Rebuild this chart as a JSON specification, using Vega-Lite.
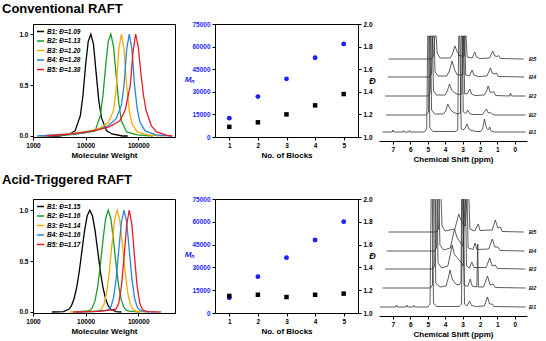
{
  "$schema": "https://vega.github.io/schema/vega-lite/v6.json",
  "background": "white",
  "padding": {"left": 2, "top": 2, "right": 0, "bottom": 0},
  "spacing": 9,
  "resolve": {"scale": {"color": "independent"}, "legend": {"color": "independent"}},
  "vconcat": [
    {
      "title": {"text": "Conventional RAFT", "dx": -31, "offset": 5},
      "spacing": 3,
      "resolve": {"scale": {"color": "independent"}, "legend": {"color": "independent"}},
      "hconcat": [
        {
          "spacing": 7,
          "resolve": {"scale": {"color": "independent"}, "legend": {"color": "independent"}},
          "hconcat": [
            {
              "width": 142,
              "height": 113,
              "data": {"values": [
                {"block": "B1", "mw": 1995, "w": 0}, {"block": "B1", "mw": 3162, "w": 0}, {"block": "B1", "mw": 5012, "w": 0.02}, {"block": "B1", "mw": 6310, "w": 0.05}, {"block": "B1", "mw": 7943, "w": 0.2}, {"block": "B1", "mw": 8913, "w": 0.4}, {"block": "B1", "mw": 10000, "w": 0.7}, {"block": "B1", "mw": 11220, "w": 0.93}, {"block": "B1", "mw": 12590, "w": 1.0}, {"block": "B1", "mw": 14130, "w": 0.9}, {"block": "B1", "mw": 15850, "w": 0.62}, {"block": "B1", "mw": 17780, "w": 0.35}, {"block": "B1", "mw": 19950, "w": 0.18}, {"block": "B1", "mw": 25120, "w": 0.05}, {"block": "B1", "mw": 31620, "w": 0.02}, {"block": "B1", "mw": 50120, "w": 0}, {"block": "B1", "mw": 63100, "w": 0},
                {"block": "B2", "mw": 1514, "w": 0}, {"block": "B2", "mw": 4786, "w": 0.01}, {"block": "B2", "mw": 9550, "w": 0.03}, {"block": "B2", "mw": 15140, "w": 0.05}, {"block": "B2", "mw": 19050, "w": 0.2}, {"block": "B2", "mw": 21380, "w": 0.4}, {"block": "B2", "mw": 23990, "w": 0.68}, {"block": "B2", "mw": 26920, "w": 0.93}, {"block": "B2", "mw": 30200, "w": 1.0}, {"block": "B2", "mw": 33880, "w": 0.88}, {"block": "B2", "mw": 38020, "w": 0.6}, {"block": "B2", "mw": 42660, "w": 0.33}, {"block": "B2", "mw": 47860, "w": 0.15}, {"block": "B2", "mw": 60260, "w": 0.04}, {"block": "B2", "mw": 95500, "w": 0.01}, {"block": "B2", "mw": 190500, "w": 0},
                {"block": "B3", "mw": 1349, "w": 0}, {"block": "B3", "mw": 4786, "w": 0.02}, {"block": "B3", "mw": 12020, "w": 0.05}, {"block": "B3", "mw": 19050, "w": 0.08}, {"block": "B3", "mw": 26920, "w": 0.13}, {"block": "B3", "mw": 33880, "w": 0.25}, {"block": "B3", "mw": 38020, "w": 0.45}, {"block": "B3", "mw": 42660, "w": 0.85}, {"block": "B3", "mw": 47860, "w": 1.0}, {"block": "B3", "mw": 53700, "w": 0.85}, {"block": "B3", "mw": 60260, "w": 0.5}, {"block": "B3", "mw": 67610, "w": 0.25}, {"block": "B3", "mw": 75860, "w": 0.12}, {"block": "B3", "mw": 95500, "w": 0.04}, {"block": "B3", "mw": 151400, "w": 0.01}, {"block": "B3", "mw": 302000, "w": 0},
                {"block": "B4", "mw": 1202, "w": 0}, {"block": "B4", "mw": 6761, "w": 0.02}, {"block": "B4", "mw": 16980, "w": 0.06}, {"block": "B4", "mw": 26920, "w": 0.1}, {"block": "B4", "mw": 38020, "w": 0.17}, {"block": "B4", "mw": 47860, "w": 0.3}, {"block": "B4", "mw": 53700, "w": 0.5}, {"block": "B4", "mw": 60260, "w": 0.85}, {"block": "B4", "mw": 67610, "w": 1.0}, {"block": "B4", "mw": 75860, "w": 0.85}, {"block": "B4", "mw": 85110, "w": 0.5}, {"block": "B4", "mw": 95500, "w": 0.27}, {"block": "B4", "mw": 107200, "w": 0.14}, {"block": "B4", "mw": 134900, "w": 0.05}, {"block": "B4", "mw": 213800, "w": 0.01}, {"block": "B4", "mw": 426600, "w": 0},
                {"block": "B5", "mw": 1778, "w": 0}, {"block": "B5", "mw": 5623, "w": 0.02}, {"block": "B5", "mw": 14130, "w": 0.05}, {"block": "B5", "mw": 28180, "w": 0.09}, {"block": "B5", "mw": 44670, "w": 0.15}, {"block": "B5", "mw": 56230, "w": 0.25}, {"block": "B5", "mw": 70790, "w": 0.5}, {"block": "B5", "mw": 79430, "w": 0.82}, {"block": "B5", "mw": 89130, "w": 1.0}, {"block": "B5", "mw": 100000, "w": 0.88}, {"block": "B5", "mw": 112200, "w": 0.62}, {"block": "B5", "mw": 125900, "w": 0.4}, {"block": "B5", "mw": 141300, "w": 0.25}, {"block": "B5", "mw": 177800, "w": 0.1}, {"block": "B5", "mw": 223900, "w": 0.04}, {"block": "B5", "mw": 354800, "w": 0.005}, {"block": "B5", "mw": 446700, "w": 0}
              ]},
              "mark": {"type": "line", "strokeWidth": 1.3, "clip": true},
              "encoding": {
                "x": {"field": "mw", "type": "quantitative", "scale": {"type": "log", "domain": [1000, 500000], "nice": false}, "axis": {"title": "Molecular Weight", "values": [1000, 10000, 100000], "format": "d", "labelOverlap": false}},
                "y": {"field": "w", "type": "quantitative", "scale": {"domain": [-0.01, 1.1], "nice": false, "zero": false}, "axis": {"title": null, "values": [0, 0.5, 1], "format": ".1f", "labelOverlap": false}},
                "color": {"field": "block", "type": "nominal", "scale": {"domain": ["B1", "B2", "B3", "B4", "B5"], "range": ["#000000", "#1e9a2a", "#f2ae00", "#2b84d8", "#e41e26"]},
                  "legend": {"labelExpr": "datum.label == 'B1' ? 'B1: Đ=1.09' : datum.label == 'B2' ? 'B2: Đ=1.13' : datum.label == 'B3' ? 'B3: Đ=1.20' : datum.label == 'B4' ? 'B4: Đ=1.28' : 'B5: Đ=1.38'"}}
              }
            },
            {
              "width": 143,
              "height": 113,
              "data": {"values": [
                {"blocks": 1, "mn": 12500, "dispersity": 1.09},
                {"blocks": 2, "mn": 26800, "dispersity": 1.13},
                {"blocks": 3, "mn": 38600, "dispersity": 1.20},
                {"blocks": 4, "mn": 52600, "dispersity": 1.28},
                {"blocks": 5, "mn": 61800, "dispersity": 1.38}
              ]},
              "layer": [
                {
                  "mark": {"type": "point", "shape": "circle", "filled": true, "size": 24, "color": "#1f1fff", "opacity": 1},
                  "encoding": {
                    "x": {"field": "blocks", "type": "quantitative", "scale": {"domain": [0.5, 5.5], "nice": false}, "axis": {"title": "No. of Blocks", "values": [1, 2, 3, 4, 5], "labelOverlap": false}},
                    "y": {"field": "mn", "type": "quantitative", "scale": {"domain": [0, 75000], "nice": false}, "axis": {"title": "Mₙ", "values": [0, 15000, 30000, 45000, 60000, 75000], "format": "d", "labelOverlap": false, "labelColor": "#1f1fff", "titleColor": "#1f1fff", "titleFontStyle": "italic", "titleAngle": 0, "titleX": -26, "titleY": 55, "titleAlign": "center", "titleBaseline": "middle"}}
                  }
                },
                {
                  "mark": {"type": "square", "filled": true, "size": 20, "color": "#000000", "opacity": 1},
                  "encoding": {
                    "x": {"field": "blocks", "type": "quantitative", "scale": {"domain": [0.5, 5.5], "nice": false}, "axis": {"title": "No. of Blocks", "values": [1, 2, 3, 4, 5], "labelOverlap": false}},
                    "y": {"field": "dispersity", "type": "quantitative", "scale": {"domain": [1, 2], "nice": false, "zero": false}, "axis": {"orient": "right", "title": "Đ", "values": [1, 1.2, 1.4, 1.6, 1.8, 2], "format": ".1f", "labelOverlap": false, "titleFontStyle": "italic", "titleFontSize": 9, "titleAngle": 0, "titleX": 14, "titleY": 56, "titleAlign": "center", "titleBaseline": "middle"}}
                  }
                }
              ],
              "resolve": {"scale": {"y": "independent"}}
            }
          ]
        },
        {
          "width": 148,
          "height": 117,
          "view": {"stroke": null},
          "layer": [
            {
              "data": {"values": [
                {"block": "B1", "ppm": 7.6, "signal": 9}, {"block": "B1", "ppm": 7.05, "signal": 9}, {"block": "B1", "ppm": 7.0, "signal": 11}, {"block": "B1", "ppm": 6.95, "signal": 9}, {"block": "B1", "ppm": 6.45, "signal": 9}, {"block": "B1", "ppm": 6.4, "signal": 10.5}, {"block": "B1", "ppm": 6.35, "signal": 9}, {"block": "B1", "ppm": 6.1, "signal": 9}, {"block": "B1", "ppm": 6.05, "signal": 10.5}, {"block": "B1", "ppm": 6.0, "signal": 9}, {"block": "B1", "ppm": 5.2, "signal": 9}, {"block": "B1", "ppm": 5.06, "signal": 12}, {"block": "B1", "ppm": 5.0, "signal": 105}, {"block": "B1", "ppm": 4.94, "signal": 105}, {"block": "B1", "ppm": 4.88, "signal": 13}, {"block": "B1", "ppm": 4.7, "signal": 9.5}, {"block": "B1", "ppm": 3.4, "signal": 9.5}, {"block": "B1", "ppm": 3.28, "signal": 11}, {"block": "B1", "ppm": 3.22, "signal": 105}, {"block": "B1", "ppm": 3.16, "signal": 105}, {"block": "B1", "ppm": 3.08, "signal": 12}, {"block": "B1", "ppm": 2.95, "signal": 11}, {"block": "B1", "ppm": 2.85, "signal": 13}, {"block": "B1", "ppm": 2.74, "signal": 17}, {"block": "B1", "ppm": 2.64, "signal": 12}, {"block": "B1", "ppm": 2.45, "signal": 10}, {"block": "B1", "ppm": 2.36, "signal": 11}, {"block": "B1", "ppm": 2.3, "signal": 9.5}, {"block": "B1", "ppm": 1.95, "signal": 9.5}, {"block": "B1", "ppm": 1.85, "signal": 12}, {"block": "B1", "ppm": 1.74, "signal": 22}, {"block": "B1", "ppm": 1.63, "signal": 13}, {"block": "B1", "ppm": 1.52, "signal": 11}, {"block": "B1", "ppm": 1.44, "signal": 14}, {"block": "B1", "ppm": 1.36, "signal": 10}, {"block": "B1", "ppm": 1.2, "signal": 9}, {"block": "B1", "ppm": -0.62, "signal": 9},
                {"block": "B2", "ppm": 7.4, "signal": 26}, {"block": "B2", "ppm": 5.1, "signal": 26}, {"block": "B2", "ppm": 4.96, "signal": 29}, {"block": "B2", "ppm": 4.9, "signal": 105}, {"block": "B2", "ppm": 4.84, "signal": 105}, {"block": "B2", "ppm": 4.78, "signal": 31}, {"block": "B2", "ppm": 4.6, "signal": 27}, {"block": "B2", "ppm": 4.1, "signal": 27}, {"block": "B2", "ppm": 3.97, "signal": 30}, {"block": "B2", "ppm": 3.85, "signal": 37}, {"block": "B2", "ppm": 3.72, "signal": 32}, {"block": "B2", "ppm": 3.55, "signal": 29}, {"block": "B2", "ppm": 3.3, "signal": 27}, {"block": "B2", "ppm": 3.12, "signal": 28}, {"block": "B2", "ppm": 3.08, "signal": 105}, {"block": "B2", "ppm": 3.02, "signal": 105}, {"block": "B2", "ppm": 2.96, "signal": 29}, {"block": "B2", "ppm": 2.82, "signal": 27.5}, {"block": "B2", "ppm": 2.7, "signal": 31}, {"block": "B2", "ppm": 2.6, "signal": 27.5}, {"block": "B2", "ppm": 2.45, "signal": 26.5}, {"block": "B2", "ppm": 1.85, "signal": 26.5}, {"block": "B2", "ppm": 1.75, "signal": 29}, {"block": "B2", "ppm": 1.63, "signal": 32}, {"block": "B2", "ppm": 1.52, "signal": 28}, {"block": "B2", "ppm": 1.4, "signal": 28.5}, {"block": "B2", "ppm": 1.3, "signal": 27}, {"block": "B2", "ppm": 1.15, "signal": 26}, {"block": "B2", "ppm": -0.62, "signal": 26},
                {"block": "B3", "ppm": 7.45, "signal": 45}, {"block": "B3", "ppm": 5.0, "signal": 45}, {"block": "B3", "ppm": 4.86, "signal": 48}, {"block": "B3", "ppm": 4.8, "signal": 105}, {"block": "B3", "ppm": 4.73, "signal": 105}, {"block": "B3", "ppm": 4.67, "signal": 50}, {"block": "B3", "ppm": 4.5, "signal": 46}, {"block": "B3", "ppm": 4.0, "signal": 46}, {"block": "B3", "ppm": 3.88, "signal": 50}, {"block": "B3", "ppm": 3.75, "signal": 57}, {"block": "B3", "ppm": 3.62, "signal": 51}, {"block": "B3", "ppm": 3.45, "signal": 48}, {"block": "B3", "ppm": 3.25, "signal": 46.5}, {"block": "B3", "ppm": 3.04, "signal": 47}, {"block": "B3", "ppm": 3.0, "signal": 105}, {"block": "B3", "ppm": 2.94, "signal": 105}, {"block": "B3", "ppm": 2.88, "signal": 47}, {"block": "B3", "ppm": 2.72, "signal": 47.5}, {"block": "B3", "ppm": 2.58, "signal": 52}, {"block": "B3", "ppm": 2.48, "signal": 47}, {"block": "B3", "ppm": 2.3, "signal": 45.5}, {"block": "B3", "ppm": 1.75, "signal": 46}, {"block": "B3", "ppm": 1.62, "signal": 50}, {"block": "B3", "ppm": 1.53, "signal": 55}, {"block": "B3", "ppm": 1.42, "signal": 49}, {"block": "B3", "ppm": 1.3, "signal": 48.5}, {"block": "B3", "ppm": 1.2, "signal": 49.5}, {"block": "B3", "ppm": 1.1, "signal": 45.5}, {"block": "B3", "ppm": 0.3, "signal": 45}, {"block": "B3", "ppm": 0.25, "signal": 48}, {"block": "B3", "ppm": 0.2, "signal": 45}, {"block": "B3", "ppm": -0.62, "signal": 45},
                {"block": "B4", "ppm": 7.3, "signal": 64}, {"block": "B4", "ppm": 4.92, "signal": 64}, {"block": "B4", "ppm": 4.78, "signal": 67}, {"block": "B4", "ppm": 4.72, "signal": 105}, {"block": "B4", "ppm": 4.64, "signal": 105}, {"block": "B4", "ppm": 4.58, "signal": 69}, {"block": "B4", "ppm": 4.4, "signal": 65}, {"block": "B4", "ppm": 3.9, "signal": 65}, {"block": "B4", "ppm": 3.76, "signal": 70}, {"block": "B4", "ppm": 3.6, "signal": 80}, {"block": "B4", "ppm": 3.46, "signal": 71}, {"block": "B4", "ppm": 3.3, "signal": 66}, {"block": "B4", "ppm": 2.98, "signal": 66}, {"block": "B4", "ppm": 2.94, "signal": 105}, {"block": "B4", "ppm": 2.88, "signal": 105}, {"block": "B4", "ppm": 2.82, "signal": 66}, {"block": "B4", "ppm": 2.6, "signal": 65}, {"block": "B4", "ppm": 2.45, "signal": 71}, {"block": "B4", "ppm": 2.35, "signal": 66}, {"block": "B4", "ppm": 2.1, "signal": 64.5}, {"block": "B4", "ppm": 1.6, "signal": 65}, {"block": "B4", "ppm": 1.5, "signal": 69}, {"block": "B4", "ppm": 1.4, "signal": 73}, {"block": "B4", "ppm": 1.3, "signal": 68}, {"block": "B4", "ppm": 1.15, "signal": 67}, {"block": "B4", "ppm": 1.05, "signal": 68}, {"block": "B4", "ppm": 0.95, "signal": 64.5}, {"block": "B4", "ppm": -0.55, "signal": 64},
                {"block": "B5", "ppm": 7.25, "signal": 82}, {"block": "B5", "ppm": 4.8, "signal": 82}, {"block": "B5", "ppm": 4.66, "signal": 85}, {"block": "B5", "ppm": 4.6, "signal": 105}, {"block": "B5", "ppm": 4.52, "signal": 105}, {"block": "B5", "ppm": 4.46, "signal": 88}, {"block": "B5", "ppm": 4.3, "signal": 83}, {"block": "B5", "ppm": 3.7, "signal": 83}, {"block": "B5", "ppm": 3.56, "signal": 88}, {"block": "B5", "ppm": 3.44, "signal": 95}, {"block": "B5", "ppm": 3.3, "signal": 89}, {"block": "B5", "ppm": 3.15, "signal": 85}, {"block": "B5", "ppm": 2.9, "signal": 85}, {"block": "B5", "ppm": 2.86, "signal": 105}, {"block": "B5", "ppm": 2.8, "signal": 105}, {"block": "B5", "ppm": 2.74, "signal": 84}, {"block": "B5", "ppm": 2.45, "signal": 83}, {"block": "B5", "ppm": 2.3, "signal": 89}, {"block": "B5", "ppm": 2.2, "signal": 84}, {"block": "B5", "ppm": 2.0, "signal": 82.5}, {"block": "B5", "ppm": 1.45, "signal": 83}, {"block": "B5", "ppm": 1.35, "signal": 87}, {"block": "B5", "ppm": 1.26, "signal": 90}, {"block": "B5", "ppm": 1.15, "signal": 85}, {"block": "B5", "ppm": 1.0, "signal": 84.5}, {"block": "B5", "ppm": 0.92, "signal": 85.5}, {"block": "B5", "ppm": 0.82, "signal": 82.5}, {"block": "B5", "ppm": -0.5, "signal": 82}
              ]},
              "mark": {"type": "line", "color": "#333333", "strokeWidth": 0.8, "clip": true},
              "encoding": {
                "x": {"field": "ppm", "type": "quantitative", "scale": {"domain": [7.8, -0.7], "nice": false, "zero": false}, "axis": {"title": "Chemical Shift (ppm)", "values": [7, 6, 5, 4, 3, 2, 1, 0], "labelOverlap": false}},
                "y": {"field": "signal", "type": "quantitative", "scale": {"domain": [0, 117], "nice": false}, "axis": null},
                "detail": {"field": "block"}
              }
            },
            {
              "data": {"values": [
                {"block": "B1", "ppm": -0.8, "signal": 9}, {"block": "B2", "ppm": -0.8, "signal": 26}, {"block": "B3", "ppm": -0.8, "signal": 45}, {"block": "B4", "ppm": -0.8, "signal": 64}, {"block": "B5", "ppm": -0.8, "signal": 82}
              ]},
              "mark": {"type": "text", "align": "left", "baseline": "middle", "fontSize": 6, "fontWeight": "bold", "fontStyle": "italic", "color": "#222222"},
              "encoding": {
                "x": {"field": "ppm", "type": "quantitative", "scale": {"domain": [7.8, -0.7], "nice": false, "zero": false}, "axis": {"title": "Chemical Shift (ppm)", "values": [7, 6, 5, 4, 3, 2, 1, 0], "labelOverlap": false}},
                "y": {"field": "signal", "type": "quantitative", "scale": {"domain": [0, 117], "nice": false}, "axis": null},
                "text": {"field": "block"}
              }
            }
          ]
        }
      ]
    },
    {
      "title": {"text": "Acid-Triggered RAFT", "dx": -31, "offset": 9},
      "spacing": 3,
      "resolve": {"scale": {"color": "independent"}, "legend": {"color": "independent"}},
      "hconcat": [
        {
          "spacing": 7,
          "resolve": {"scale": {"color": "independent"}, "legend": {"color": "independent"}},
          "hconcat": [
            {
              "width": 142,
              "height": 114,
              "data": {"values": [
                {"block": "B1", "mw": 2290, "w": 0}, {"block": "B1", "mw": 3020, "w": 0.001}, {"block": "B1", "mw": 3802, "w": 0.004}, {"block": "B1", "mw": 4786, "w": 0.026}, {"block": "B1", "mw": 5370, "w": 0.06}, {"block": "B1", "mw": 6026, "w": 0.13}, {"block": "B1", "mw": 6761, "w": 0.24}, {"block": "B1", "mw": 7586, "w": 0.4}, {"block": "B1", "mw": 8511, "w": 0.6}, {"block": "B1", "mw": 9550, "w": 0.8}, {"block": "B1", "mw": 10720, "w": 0.945}, {"block": "B1", "mw": 12020, "w": 1.0}, {"block": "B1", "mw": 13490, "w": 0.945}, {"block": "B1", "mw": 15140, "w": 0.8}, {"block": "B1", "mw": 16980, "w": 0.6}, {"block": "B1", "mw": 19050, "w": 0.4}, {"block": "B1", "mw": 21380, "w": 0.24}, {"block": "B1", "mw": 23990, "w": 0.13}, {"block": "B1", "mw": 26920, "w": 0.06}, {"block": "B1", "mw": 30200, "w": 0.026}, {"block": "B1", "mw": 38020, "w": 0.003}, {"block": "B1", "mw": 47860, "w": 0},
                {"block": "B2", "mw": 6761, "w": 0}, {"block": "B2", "mw": 8511, "w": 0.005}, {"block": "B2", "mw": 10720, "w": 0.01}, {"block": "B2", "mw": 12020, "w": 0.016}, {"block": "B2", "mw": 13490, "w": 0.044}, {"block": "B2", "mw": 15140, "w": 0.114}, {"block": "B2", "mw": 16980, "w": 0.249}, {"block": "B2", "mw": 19050, "w": 0.458}, {"block": "B2", "mw": 21380, "w": 0.707}, {"block": "B2", "mw": 23990, "w": 0.917}, {"block": "B2", "mw": 26920, "w": 1.0}, {"block": "B2", "mw": 30200, "w": 0.917}, {"block": "B2", "mw": 33880, "w": 0.707}, {"block": "B2", "mw": 38020, "w": 0.458}, {"block": "B2", "mw": 42660, "w": 0.249}, {"block": "B2", "mw": 47860, "w": 0.114}, {"block": "B2", "mw": 53700, "w": 0.044}, {"block": "B2", "mw": 60260, "w": 0.016}, {"block": "B2", "mw": 67610, "w": 0.008}, {"block": "B2", "mw": 85110, "w": 0.003}, {"block": "B2", "mw": 107200, "w": 0},
                {"block": "B3", "mw": 5012, "w": 0}, {"block": "B3", "mw": 10000, "w": 0.003}, {"block": "B3", "mw": 12590, "w": 0.006}, {"block": "B3", "mw": 15850, "w": 0.01}, {"block": "B3", "mw": 17780, "w": 0.013}, {"block": "B3", "mw": 19950, "w": 0.027}, {"block": "B3", "mw": 22390, "w": 0.076}, {"block": "B3", "mw": 25120, "w": 0.191}, {"block": "B3", "mw": 28180, "w": 0.395}, {"block": "B3", "mw": 31620, "w": 0.662}, {"block": "B3", "mw": 35480, "w": 0.902}, {"block": "B3", "mw": 39810, "w": 1.0}, {"block": "B3", "mw": 44670, "w": 0.902}, {"block": "B3", "mw": 50120, "w": 0.662}, {"block": "B3", "mw": 56230, "w": 0.395}, {"block": "B3", "mw": 63100, "w": 0.191}, {"block": "B3", "mw": 70790, "w": 0.076}, {"block": "B3", "mw": 79430, "w": 0.027}, {"block": "B3", "mw": 89130, "w": 0.01}, {"block": "B3", "mw": 100000, "w": 0.005}, {"block": "B3", "mw": 125900, "w": 0.002}, {"block": "B3", "mw": 158500, "w": 0},
                {"block": "B4", "mw": 6761, "w": 0}, {"block": "B4", "mw": 13490, "w": 0.004}, {"block": "B4", "mw": 16980, "w": 0.008}, {"block": "B4", "mw": 21380, "w": 0.012}, {"block": "B4", "mw": 23990, "w": 0.016}, {"block": "B4", "mw": 26920, "w": 0.022}, {"block": "B4", "mw": 30200, "w": 0.05}, {"block": "B4", "mw": 33880, "w": 0.135}, {"block": "B4", "mw": 38020, "w": 0.325}, {"block": "B4", "mw": 42660, "w": 0.607}, {"block": "B4", "mw": 47860, "w": 0.882}, {"block": "B4", "mw": 53700, "w": 1.0}, {"block": "B4", "mw": 60260, "w": 0.882}, {"block": "B4", "mw": 67610, "w": 0.607}, {"block": "B4", "mw": 75860, "w": 0.325}, {"block": "B4", "mw": 85110, "w": 0.135}, {"block": "B4", "mw": 95500, "w": 0.05}, {"block": "B4", "mw": 107200, "w": 0.018}, {"block": "B4", "mw": 120200, "w": 0.008}, {"block": "B4", "mw": 134900, "w": 0.004}, {"block": "B4", "mw": 169800, "w": 0.001}, {"block": "B4", "mw": 213800, "w": 0},
                {"block": "B5", "mw": 5754, "w": 0}, {"block": "B5", "mw": 16980, "w": 0.005}, {"block": "B5", "mw": 21380, "w": 0.01}, {"block": "B5", "mw": 26920, "w": 0.015}, {"block": "B5", "mw": 30200, "w": 0.018}, {"block": "B5", "mw": 33880, "w": 0.022}, {"block": "B5", "mw": 38020, "w": 0.03}, {"block": "B5", "mw": 42660, "w": 0.085}, {"block": "B5", "mw": 47860, "w": 0.249}, {"block": "B5", "mw": 53700, "w": 0.539}, {"block": "B5", "mw": 60260, "w": 0.857}, {"block": "B5", "mw": 67610, "w": 1.0}, {"block": "B5", "mw": 75860, "w": 0.857}, {"block": "B5", "mw": 85110, "w": 0.539}, {"block": "B5", "mw": 95500, "w": 0.249}, {"block": "B5", "mw": 107200, "w": 0.085}, {"block": "B5", "mw": 120200, "w": 0.025}, {"block": "B5", "mw": 134900, "w": 0.01}, {"block": "B5", "mw": 151400, "w": 0.005}, {"block": "B5", "mw": 169800, "w": 0.003}, {"block": "B5", "mw": 213800, "w": 0.001}, {"block": "B5", "mw": 269200, "w": 0}
              ]},
              "mark": {"type": "line", "strokeWidth": 1.3, "clip": true},
              "encoding": {
                "x": {"field": "mw", "type": "quantitative", "scale": {"type": "log", "domain": [1000, 500000], "nice": false}, "axis": {"title": "Molecular Weight", "values": [1000, 10000, 100000], "format": "d", "labelOverlap": false}},
                "y": {"field": "w", "type": "quantitative", "scale": {"domain": [-0.01, 1.11], "nice": false, "zero": false}, "axis": {"title": null, "values": [0, 0.5, 1], "format": ".1f", "labelOverlap": false}},
                "color": {"field": "block", "type": "nominal", "scale": {"domain": ["B1", "B2", "B3", "B4", "B5"], "range": ["#000000", "#1e9a2a", "#f2ae00", "#2b84d8", "#e41e26"]},
                  "legend": {"labelExpr": "datum.label == 'B1' ? 'B1: Đ=1.15' : datum.label == 'B2' ? 'B2: Đ=1.16' : datum.label == 'B3' ? 'B3: Đ=1.14' : datum.label == 'B4' ? 'B4: Đ=1.16' : 'B5: Đ=1.17'"}}
              }
            },
            {
              "width": 143,
              "height": 114,
              "data": {"values": [
                {"blocks": 1, "mn": 10000, "dispersity": 1.15},
                {"blocks": 2, "mn": 23900, "dispersity": 1.16},
                {"blocks": 3, "mn": 36400, "dispersity": 1.14},
                {"blocks": 4, "mn": 48000, "dispersity": 1.16},
                {"blocks": 5, "mn": 60100, "dispersity": 1.17}
              ]},
              "layer": [
                {
                  "mark": {"type": "point", "shape": "circle", "filled": true, "size": 24, "color": "#1f1fff", "opacity": 1},
                  "encoding": {
                    "x": {"field": "blocks", "type": "quantitative", "scale": {"domain": [0.5, 5.5], "nice": false}, "axis": {"title": "No. of Blocks", "values": [1, 2, 3, 4, 5], "labelOverlap": false}},
                    "y": {"field": "mn", "type": "quantitative", "scale": {"domain": [0, 75000], "nice": false}, "axis": {"title": "Mₙ", "values": [0, 15000, 30000, 45000, 60000, 75000], "format": "d", "labelOverlap": false, "labelColor": "#1f1fff", "titleColor": "#1f1fff", "titleFontStyle": "italic", "titleAngle": 0, "titleX": -26, "titleY": 55, "titleAlign": "center", "titleBaseline": "middle"}}
                  }
                },
                {
                  "mark": {"type": "square", "filled": true, "size": 20, "color": "#000000", "opacity": 1},
                  "encoding": {
                    "x": {"field": "blocks", "type": "quantitative", "scale": {"domain": [0.5, 5.5], "nice": false}, "axis": {"title": "No. of Blocks", "values": [1, 2, 3, 4, 5], "labelOverlap": false}},
                    "y": {"field": "dispersity", "type": "quantitative", "scale": {"domain": [1, 2], "nice": false, "zero": false}, "axis": {"orient": "right", "title": "Đ", "values": [1, 1.2, 1.4, 1.6, 1.8, 2], "format": ".1f", "labelOverlap": false, "titleFontStyle": "italic", "titleFontSize": 9, "titleAngle": 0, "titleX": 14, "titleY": 56, "titleAlign": "center", "titleBaseline": "middle"}}
                  }
                }
              ],
              "resolve": {"scale": {"y": "independent"}}
            }
          ]
        },
        {
          "width": 148,
          "height": 117,
          "view": {"stroke": null},
          "layer": [
            {
              "data": {"values": [
                {"block": "B1", "ppm": 7.75, "signal": 9}, {"block": "B1", "ppm": 6.85, "signal": 9}, {"block": "B1", "ppm": 6.8, "signal": 11}, {"block": "B1", "ppm": 6.75, "signal": 9}, {"block": "B1", "ppm": 6.25, "signal": 9}, {"block": "B1", "ppm": 6.2, "signal": 11}, {"block": "B1", "ppm": 6.15, "signal": 9}, {"block": "B1", "ppm": 5.85, "signal": 9}, {"block": "B1", "ppm": 5.8, "signal": 10.5}, {"block": "B1", "ppm": 5.75, "signal": 9}, {"block": "B1", "ppm": 5.0, "signal": 9}, {"block": "B1", "ppm": 4.87, "signal": 12}, {"block": "B1", "ppm": 4.8, "signal": 125}, {"block": "B1", "ppm": 4.74, "signal": 125}, {"block": "B1", "ppm": 4.67, "signal": 13}, {"block": "B1", "ppm": 4.5, "signal": 9.5}, {"block": "B1", "ppm": 3.2, "signal": 9.5}, {"block": "B1", "ppm": 3.06, "signal": 12}, {"block": "B1", "ppm": 3.01, "signal": 125}, {"block": "B1", "ppm": 2.95, "signal": 125}, {"block": "B1", "ppm": 2.89, "signal": 12}, {"block": "B1", "ppm": 2.75, "signal": 10}, {"block": "B1", "ppm": 2.6, "signal": 15}, {"block": "B1", "ppm": 2.48, "signal": 10.5}, {"block": "B1", "ppm": 2.2, "signal": 9.5}, {"block": "B1", "ppm": 1.75, "signal": 10}, {"block": "B1", "ppm": 1.57, "signal": 19}, {"block": "B1", "ppm": 1.45, "signal": 12}, {"block": "B1", "ppm": 1.3, "signal": 12}, {"block": "B1", "ppm": 1.2, "signal": 9.5}, {"block": "B1", "ppm": -0.62, "signal": 9},
                {"block": "B2", "ppm": 7.6, "signal": 28}, {"block": "B2", "ppm": 4.85, "signal": 28}, {"block": "B2", "ppm": 4.73, "signal": 31}, {"block": "B2", "ppm": 4.67, "signal": 125}, {"block": "B2", "ppm": 4.6, "signal": 125}, {"block": "B2", "ppm": 4.54, "signal": 33}, {"block": "B2", "ppm": 4.3, "signal": 29}, {"block": "B2", "ppm": 3.95, "signal": 30}, {"block": "B2", "ppm": 3.82, "signal": 38}, {"block": "B2", "ppm": 3.72, "signal": 46}, {"block": "B2", "ppm": 3.6, "signal": 37}, {"block": "B2", "ppm": 3.4, "signal": 32}, {"block": "B2", "ppm": 3.2, "signal": 31}, {"block": "B2", "ppm": 3.09, "signal": 34}, {"block": "B2", "ppm": 3.05, "signal": 125}, {"block": "B2", "ppm": 2.98, "signal": 125}, {"block": "B2", "ppm": 2.91, "signal": 31}, {"block": "B2", "ppm": 2.7, "signal": 29.5}, {"block": "B2", "ppm": 2.56, "signal": 37}, {"block": "B2", "ppm": 2.45, "signal": 30}, {"block": "B2", "ppm": 2.18, "signal": 29}, {"block": "B2", "ppm": 2.13, "signal": 72}, {"block": "B2", "ppm": 2.09, "signal": 29}, {"block": "B2", "ppm": 1.8, "signal": 29}, {"block": "B2", "ppm": 1.57, "signal": 40}, {"block": "B2", "ppm": 1.42, "signal": 31}, {"block": "B2", "ppm": 1.25, "signal": 32}, {"block": "B2", "ppm": 1.12, "signal": 28.5}, {"block": "B2", "ppm": -0.62, "signal": 28},
                {"block": "B3", "ppm": 7.45, "signal": 47}, {"block": "B3", "ppm": 4.72, "signal": 47}, {"block": "B3", "ppm": 4.6, "signal": 50}, {"block": "B3", "ppm": 4.54, "signal": 125}, {"block": "B3", "ppm": 4.47, "signal": 125}, {"block": "B3", "ppm": 4.41, "signal": 53}, {"block": "B3", "ppm": 4.2, "signal": 48}, {"block": "B3", "ppm": 3.85, "signal": 50}, {"block": "B3", "ppm": 3.72, "signal": 60}, {"block": "B3", "ppm": 3.6, "signal": 71}, {"block": "B3", "ppm": 3.48, "signal": 62}, {"block": "B3", "ppm": 3.3, "signal": 58}, {"block": "B3", "ppm": 3.1, "signal": 54}, {"block": "B3", "ppm": 2.96, "signal": 50}, {"block": "B3", "ppm": 2.91, "signal": 125}, {"block": "B3", "ppm": 2.84, "signal": 125}, {"block": "B3", "ppm": 2.77, "signal": 50}, {"block": "B3", "ppm": 2.6, "signal": 48}, {"block": "B3", "ppm": 2.47, "signal": 54}, {"block": "B3", "ppm": 2.35, "signal": 48.5}, {"block": "B3", "ppm": 1.65, "signal": 48.5}, {"block": "B3", "ppm": 1.44, "signal": 58}, {"block": "B3", "ppm": 1.3, "signal": 50}, {"block": "B3", "ppm": 1.12, "signal": 51}, {"block": "B3", "ppm": 1.0, "signal": 47.5}, {"block": "B3", "ppm": -0.6, "signal": 47},
                {"block": "B4", "ppm": 7.35, "signal": 65}, {"block": "B4", "ppm": 4.62, "signal": 65}, {"block": "B4", "ppm": 4.5, "signal": 68}, {"block": "B4", "ppm": 4.44, "signal": 125}, {"block": "B4", "ppm": 4.37, "signal": 125}, {"block": "B4", "ppm": 4.3, "signal": 71}, {"block": "B4", "ppm": 4.1, "signal": 66}, {"block": "B4", "ppm": 3.7, "signal": 68}, {"block": "B4", "ppm": 3.58, "signal": 78}, {"block": "B4", "ppm": 3.46, "signal": 87}, {"block": "B4", "ppm": 3.33, "signal": 79}, {"block": "B4", "ppm": 3.15, "signal": 74}, {"block": "B4", "ppm": 2.98, "signal": 70}, {"block": "B4", "ppm": 2.82, "signal": 125}, {"block": "B4", "ppm": 2.75, "signal": 125}, {"block": "B4", "ppm": 2.68, "signal": 68}, {"block": "B4", "ppm": 2.4, "signal": 66.5}, {"block": "B4", "ppm": 2.28, "signal": 73}, {"block": "B4", "ppm": 2.18, "signal": 66.5}, {"block": "B4", "ppm": 1.5, "signal": 67}, {"block": "B4", "ppm": 1.29, "signal": 77}, {"block": "B4", "ppm": 1.15, "signal": 69}, {"block": "B4", "ppm": 0.97, "signal": 69}, {"block": "B4", "ppm": 0.85, "signal": 65.5}, {"block": "B4", "ppm": -0.55, "signal": 65},
                {"block": "B5", "ppm": 7.25, "signal": 84}, {"block": "B5", "ppm": 4.5, "signal": 84}, {"block": "B5", "ppm": 4.38, "signal": 87}, {"block": "B5", "ppm": 4.32, "signal": 125}, {"block": "B5", "ppm": 4.25, "signal": 125}, {"block": "B5", "ppm": 4.18, "signal": 90}, {"block": "B5", "ppm": 4.0, "signal": 85}, {"block": "B5", "ppm": 3.45, "signal": 87}, {"block": "B5", "ppm": 3.32, "signal": 95}, {"block": "B5", "ppm": 3.22, "signal": 102}, {"block": "B5", "ppm": 3.1, "signal": 96}, {"block": "B5", "ppm": 2.95, "signal": 92}, {"block": "B5", "ppm": 2.85, "signal": 90}, {"block": "B5", "ppm": 2.72, "signal": 125}, {"block": "B5", "ppm": 2.65, "signal": 125}, {"block": "B5", "ppm": 2.58, "signal": 87}, {"block": "B5", "ppm": 2.3, "signal": 85}, {"block": "B5", "ppm": 2.1, "signal": 92}, {"block": "B5", "ppm": 2.0, "signal": 85.5}, {"block": "B5", "ppm": 1.3, "signal": 86}, {"block": "B5", "ppm": 1.12, "signal": 96}, {"block": "B5", "ppm": 0.98, "signal": 88}, {"block": "B5", "ppm": 0.82, "signal": 89}, {"block": "B5", "ppm": 0.72, "signal": 84.5}, {"block": "B5", "ppm": -0.5, "signal": 84}
              ]},
              "mark": {"type": "line", "color": "#333333", "strokeWidth": 0.8, "clip": true},
              "encoding": {
                "x": {"field": "ppm", "type": "quantitative", "scale": {"domain": [7.8, -0.7], "nice": false, "zero": false}, "axis": {"title": "Chemical Shift (ppm)", "values": [7, 6, 5, 4, 3, 2, 1, 0], "labelOverlap": false}},
                "y": {"field": "signal", "type": "quantitative", "scale": {"domain": [0, 117], "nice": false}, "axis": null},
                "detail": {"field": "block"}
              }
            },
            {
              "data": {"values": [
                {"block": "B1", "ppm": -0.8, "signal": 9}, {"block": "B2", "ppm": -0.8, "signal": 28}, {"block": "B3", "ppm": -0.8, "signal": 47}, {"block": "B4", "ppm": -0.8, "signal": 65}, {"block": "B5", "ppm": -0.8, "signal": 84}
              ]},
              "mark": {"type": "text", "align": "left", "baseline": "middle", "fontSize": 6, "fontWeight": "bold", "fontStyle": "italic", "color": "#222222"},
              "encoding": {
                "x": {"field": "ppm", "type": "quantitative", "scale": {"domain": [7.8, -0.7], "nice": false, "zero": false}, "axis": {"title": "Chemical Shift (ppm)", "values": [7, 6, 5, 4, 3, 2, 1, 0], "labelOverlap": false}},
                "y": {"field": "signal", "type": "quantitative", "scale": {"domain": [0, 117], "nice": false}, "axis": null},
                "text": {"field": "block"}
              }
            }
          ]
        }
      ]
    }
  ],
  "config": {
    "font": "Liberation Sans",
    "view": {"stroke": "#000000", "strokeWidth": 1},
    "axis": {
      "grid": false,
      "labelOverlap": false,
      "labelFlush": false,
      "domainColor": "#000000",
      "domainWidth": 1,
      "tickColor": "#000000",
      "tickWidth": 1,
      "tickSize": 3,
      "labelFont": "Liberation Sans",
      "labelFontSize": 6.5,
      "labelFontWeight": "bold",
      "labelColor": "#000000",
      "labelPadding": 2,
      "titleFont": "Liberation Sans",
      "titleFontSize": 8,
      "titleFontWeight": "bold",
      "titleColor": "#000000",
      "titlePadding": 3
    },
    "title": {"font": "Liberation Sans", "fontSize": 13, "fontWeight": "bold", "anchor": "start", "frame": "group", "color": "#000000"},
    "legend": {
      "title": null,
      "orient": "top-left",
      "offset": 3,
      "padding": 0,
      "symbolType": "stroke",
      "symbolSize": 50,
      "symbolStrokeWidth": 1.5,
      "labelFont": "Liberation Sans",
      "labelFontSize": 6.5,
      "labelFontWeight": "bold",
      "labelFontStyle": "italic",
      "labelColor": "#000000",
      "labelOffset": 2,
      "rowPadding": 1.5
    }
  }
}
